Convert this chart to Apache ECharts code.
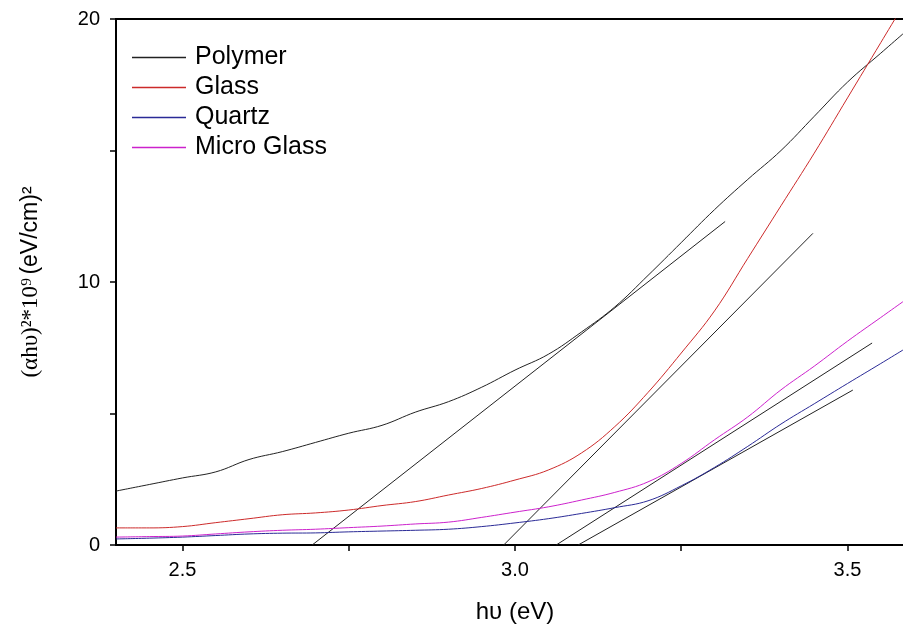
<!DOCTYPE html>
<html>
<head>
<meta charset="utf-8">
<script src="https://cdn.jsdelivr.net/npm/echarts@6/dist/echarts.min.js"></script>
<style>
  html, body { margin: 0; padding: 0; background: #fff; }
  #chart { width: 903px; height: 624px; }
</style>
</head>
<body>
<div id="chart"></div>
<script>
// photon energy (eV)
var energy = [2.40, 2.45, 2.50, 2.55, 2.60, 2.65, 2.70, 2.75, 2.80, 2.85, 2.90, 2.95,
              3.00, 3.05, 3.10, 3.15, 3.20, 3.25, 3.30, 3.35, 3.40, 3.45, 3.50, 3.55, 3.60];
var polymer = [2.05, 2.3, 2.55, 2.78, 3.25, 3.55, 3.9, 4.25, 4.55, 5.05, 5.45, 6.0,
               6.65, 7.25, 8.1, 9.05, 10.25, 11.5, 12.75, 13.9, 15.0, 16.3, 17.6, 18.7, 19.8];
var glass = [0.65, 0.65, 0.7, 0.85, 1.0, 1.15, 1.22, 1.33, 1.5, 1.65, 1.9, 2.15,
             2.47, 2.85, 3.5, 4.5, 5.8, 7.3, 8.9, 10.9, 12.9, 14.9, 17.0, 19.1, 21.2];
var quartz = [0.23, 0.26, 0.3, 0.36, 0.42, 0.45, 0.46, 0.5, 0.53, 0.56, 0.6, 0.7,
              0.84, 1.0, 1.2, 1.42, 1.68, 2.25, 2.95, 3.75, 4.6, 5.37, 6.14, 6.9, 7.67];
var microGlass = [0.3, 0.32, 0.34, 0.42, 0.5, 0.56, 0.6, 0.66, 0.72, 0.8, 0.87, 1.05,
                  1.25, 1.45, 1.71, 2.0, 2.4, 3.1, 4.0, 4.87, 5.9, 6.8, 7.75, 8.65, 9.55];

// tangent lines: [x0, y0, x1, y1]
var tangentPolymer = [2.695, 0, 3.316, 12.3];
var tangentGlass = [2.983, 0, 3.448, 11.85];
var tangentMicro = [3.062, 0, 3.537, 7.68];
var tangentQuartz = [3.095, 0, 3.508, 5.89];

var names = ['Polymer', 'Glass', 'Quartz', 'Micro Glass'];
var colors = ['#222222', '#cc2a2a', '#2a2a96', '#cc22cc'];

function pairs(ys) {
  return energy.map(function (x, i) { return [x, ys[i]]; });
}
function seg(t) {
  return [[t[0], t[1]], [t[2], t[3]]];
}

var chart = echarts.init(document.getElementById('chart'));

var curves = [polymer, glass, quartz, microGlass].map(function (ys, i) {
  return {
    name: names[i],
    type: 'line',
    data: pairs(ys),
    showSymbol: false,
    symbol: 'none',
    smooth: 0.4,
    color: colors[i],
    itemStyle: { color: colors[i] },
    lineStyle: { width: 1, color: colors[i] },
    z: 3
  };
});

var tangents = [tangentPolymer, tangentGlass, tangentMicro, tangentQuartz].map(function (t, i) {
  return {
    name: 'tangent' + i,
    type: 'line',
    data: seg(t),
    symbol: 'none',
    lineStyle: { width: 1, color: '#222' },
    z: 2
  };
});

var option = {
  animation: false,
  backgroundColor: '#fff',
  grid: {
    left: 116, top: 19, height: 526, width: 798,
    outerBoundsMode: 'none',
    containLabel: false,
    show: true, borderColor: '#000', borderWidth: 2, backgroundColor: 'transparent'
  },
  legend: {
    data: names.map(function (n, i) {
      return { name: n, itemStyle: { color: colors[i], borderWidth: 0 } };
    }),
    orient: 'vertical',
    left: 132,
    top: 45,
    padding: 0,
    icon: 'rect',
    itemWidth: 54,
    itemHeight: 1.3,
    itemGap: 5,
    textStyle: { fontSize: 25, fontFamily: 'Liberation Sans, Arial', color: '#000', lineHeight: 25, padding: [0, 0, 0, 4] }
  },
  xAxis: {
    type: 'value',
    min: 2.4,
    max: 3.6,
    name: 'h\u03c5 (eV)',
    nameLocation: 'middle',
    nameGap: 55,
    nameTextStyle: { fontSize: 24, fontFamily: 'Liberation Sans, Arial', color: '#000' },
    axisLine: { show: true, onZero: false, lineStyle: { color: '#000', width: 2 } },
    axisTick: { show: true, inside: false, length: 6, lineStyle: { color: '#000', width: 1.5 },
      customValues: [2.5, 2.75, 3.0, 3.25, 3.5] },
    axisLabel: { fontSize: 20, fontFamily: 'Liberation Sans, Arial', color: '#000', margin: 15,
      customValues: [2.5, 3.0, 3.5],
      formatter: function (v) { return v.toFixed(1); } },
    splitLine: { show: false }
  },
  yAxis: {
    type: 'value',
    min: 0,
    max: 20,
    interval: 5,
    name: '{s|(\u03b1h\u03c5)\u00b2*10\u2079} {a|(eV/cm)\u00b2}',
    nameLocation: 'middle',
    nameGap: 74,
    nameTextStyle: {
      color: '#000',
      rich: {
        s: { fontSize: 23, fontFamily: 'Liberation Serif, Times New Roman', color: '#000' },
        a: { fontSize: 23, fontFamily: 'Liberation Sans, Arial', color: '#000' }
      }
    },
    axisLine: { show: true, lineStyle: { color: '#000', width: 2 } },
    axisTick: { show: true, inside: false, length: 6, lineStyle: { color: '#000', width: 1.5 } },
    axisLabel: { fontSize: 20, fontFamily: 'Liberation Sans, Arial', color: '#000', margin: 16,
      formatter: function (v) { return (v % 10 === 0) ? String(v) : ''; } },
    splitLine: { show: false }
  },
  series: curves.concat(tangents)
};

chart.setOption(option);
</script>
</body>
</html>
